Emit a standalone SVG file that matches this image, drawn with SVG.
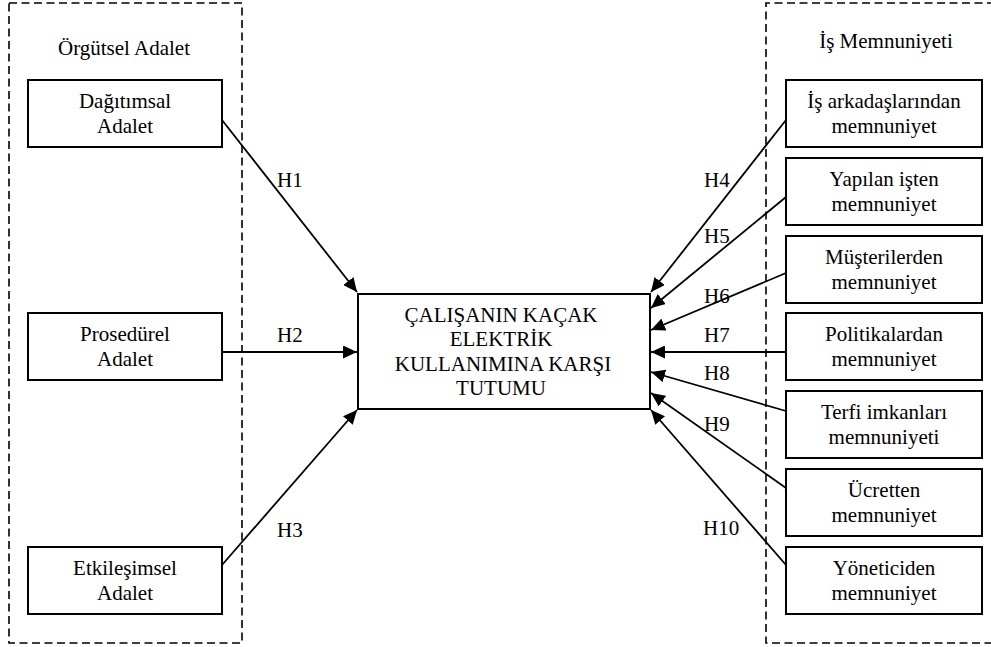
<svg xmlns="http://www.w3.org/2000/svg" width="991" height="647" viewBox="0 0 991 647">
<style>
text{font-family:"Liberation Serif","Times New Roman",serif;font-size:21px;fill:#000}
.c{text-anchor:middle}
.box{fill:#fff;stroke:#000;stroke-width:2}
.dash{fill:none;stroke:#000;stroke-width:1.6;stroke-dasharray:8 4.5}
.conn line{stroke:#000;stroke-width:1.8;marker-end:url(#ah)}
</style>
<defs>
<marker id="ah" markerUnits="userSpaceOnUse" markerWidth="15" markerHeight="13" refX="14" refY="6.5" orient="auto">
<path d="M0,0 L14,6.5 L0,13 z" fill="#000"/>
</marker>
</defs>
<rect fill="#fff" x="0" y="0" width="991" height="647"/>
<g id="group-orgutsel">
<rect class="dash" x="9" y="3" width="233" height="640"/>
<text class="c" x="124" y="55">Örgütsel Adalet</text>
</g>
<g id="group-is">
<path class="dash" d="M995,3 H766 V643 H995"/>
<text class="c" x="886" y="48">İş Memnuniyeti</text>
</g>
<g class="conn" id="connectors">
<line x1="222" y1="120" x2="357" y2="292"/>
<line x1="222" y1="352" x2="357" y2="352"/>
<line x1="222" y1="565" x2="357" y2="410"/>
<line x1="786" y1="120" x2="651" y2="292"/>
<line x1="786" y1="197" x2="651" y2="308"/>
<line x1="786" y1="273" x2="651" y2="330"/>
<line x1="786" y1="352" x2="651" y2="352"/>
<line x1="786" y1="411" x2="651" y2="372"/>
<line x1="786" y1="488" x2="651" y2="393"/>
<line x1="786" y1="565" x2="651" y2="410"/>
</g>
<g id="labels">
<text x="277" y="187">H1</text>
<text x="277" y="342">H2</text>
<text x="277" y="537">H3</text>
<text x="704" y="187">H4</text>
<text x="704" y="243">H5</text>
<text x="704" y="303">H6</text>
<text x="704" y="342">H7</text>
<text x="704" y="380">H8</text>
<text x="704" y="431">H9</text>
<text x="703" y="535">H10</text>
</g>
<g id="center">
<rect class="box" x="358" y="294" width="292" height="115"/>
<text class="c" x="501" y="322">ÇALIŞANIN KAÇAK</text>
<text class="c" x="501" y="346">ELEKTRİK</text>
<text class="c" x="503" y="371">KULLANIMINA KARŞI</text>
<text class="c" x="501" y="395">TUTUMU</text>
</g>
<g id="dagitimsal">
<rect class="box" x="28" y="80" width="194" height="67"/>
<text class="c" x="125" y="108">Dağıtımsal</text>
<text class="c" x="125" y="133">Adalet</text>
</g>
<g id="prosedurel">
<rect class="box" x="28" y="313" width="194" height="67"/>
<text class="c" x="125" y="341">Prosedürel</text>
<text class="c" x="125" y="366">Adalet</text>
</g>
<g id="etkilesimsel">
<rect class="box" x="28" y="547" width="194" height="67"/>
<text class="c" x="125" y="575">Etkileşimsel</text>
<text class="c" x="125" y="600">Adalet</text>
</g>
<g id="is-arkadaslari">
<rect class="box" x="786" y="80" width="196" height="67"/>
<text class="c" x="884" y="108">İş arkadaşlarından</text>
<text class="c" x="884" y="133">memnuniyet</text>
</g>
<g id="yapilan-is">
<rect class="box" x="786" y="158" width="196" height="67"/>
<text class="c" x="884" y="186">Yapılan işten</text>
<text class="c" x="884" y="211">memnuniyet</text>
</g>
<g id="musteriler">
<rect class="box" x="786" y="236" width="196" height="67"/>
<text class="c" x="884" y="264">Müşterilerden</text>
<text class="c" x="884" y="289">memnuniyet</text>
</g>
<g id="politikalar">
<rect class="box" x="786" y="313" width="196" height="67"/>
<text class="c" x="884" y="341">Politikalardan</text>
<text class="c" x="884" y="366">memnuniyet</text>
</g>
<g id="terfi">
<rect class="box" x="786" y="391" width="196" height="67"/>
<text class="c" x="884" y="419">Terfi imkanları</text>
<text class="c" x="884" y="444">memnuniyeti</text>
</g>
<g id="ucret">
<rect class="box" x="786" y="469" width="196" height="67"/>
<text class="c" x="884" y="497">Ücretten</text>
<text class="c" x="884" y="522">memnuniyet</text>
</g>
<g id="yonetici">
<rect class="box" x="786" y="547" width="196" height="67"/>
<text class="c" x="884" y="575">Yöneticiden</text>
<text class="c" x="884" y="600">memnuniyet</text>
</g>
</svg>
